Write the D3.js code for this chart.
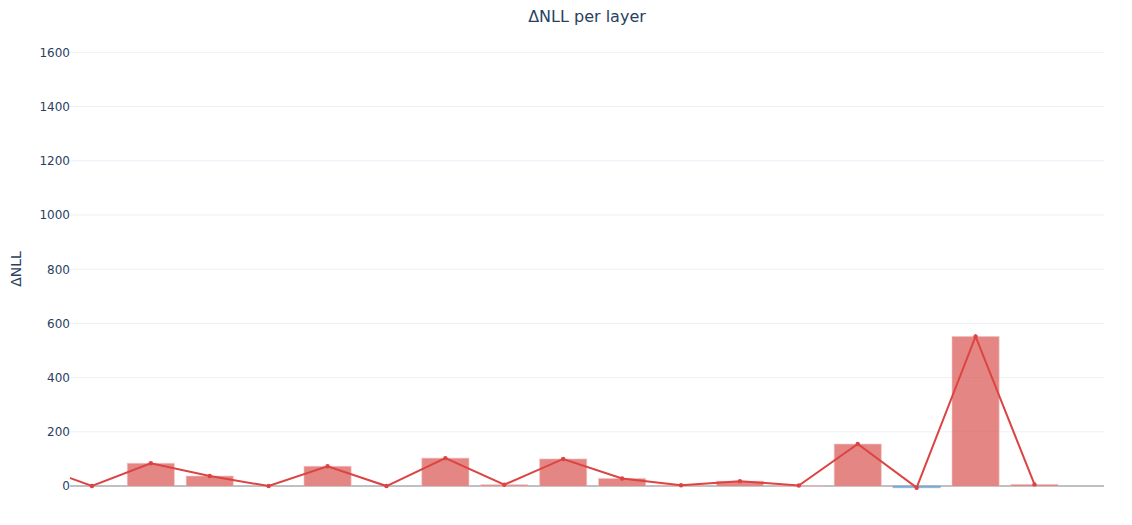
<!DOCTYPE html>
<html>
<head>
<meta charset="utf-8">
<script src="https://cdn.jsdelivr.net/npm/d3@7"></script>
<style>
  body { margin: 0; background: #fff; }
  text { font-family: "DejaVu Sans", Verdana, sans-serif; }
</style>
</head>
<body>
<div class="chart"></div>
<script>
// layer index and dNLL per layer
const layers = [0, 1, 2, 3, 4, 5, 6, 7, 8, 9, 10, 11, 12, 13, 14, 15, 16, 17];
const deltaNLL = [80, 0, 84, 37, 0, 73, 0, 103, 5, 100, 28, 3, 18, 2, 155, -6, 552, 6];
const yTicks = [0, 200, 400, 600, 800, 1000, 1200, 1400, 1600];

const W = 1132, H = 525;
const margin = { top: 51, right: 28, bottom: 38, left: 70 };
const width = W - margin.left - margin.right;
const height = H - margin.top - margin.bottom;

const svg = d3.select('.chart')
  .append('svg')
    .attr('width', W)
    .attr('height', H);

const g = svg.append('g')
  .attr('transform', `translate(${margin.left}, ${margin.top})`);

// x is hidden, range cuts off part of layer 0
const xScale = d3.scaleLinear()
  .domain([0.628, 18.18])
  .range([0, width]);

const yScale = d3.scaleLinear()
  .domain([-3.5, 1605])
  .range([height, 0]);

// grid
g.append('g')
  .selectAll('line')
  .data(yTicks.filter(d => d !== 0))
  .enter()
  .append('line')
    .attr('x1', 0)
    .attr('x2', width)
    .attr('y1', d => yScale(d))
    .attr('y2', d => yScale(d))
    .style('stroke', '#ebf0f8')
    .style('stroke-width', 1);

// y tick labels
g.append('g')
  .selectAll('text')
  .data(yTicks)
  .enter()
  .append('text')
    .attr('x', 0)
    .attr('y', d => yScale(d))
    .attr('dy', '0.36em')
    .attr('text-anchor', 'end')
    .style('font-size', '12px')
    .style('fill', '#2a3f5f')
    .text(d => d);

svg.append('clipPath').attr('id', 'plotclip')
  .append('rect')
    .attr('x', margin.left)
    .attr('y', 0)
    .attr('width', width)
    .attr('height', H);

const plot = svg.append('g')
  .attr('clip-path', 'url(#plotclip)')
  .append('g')
    .attr('transform', `translate(${margin.left}, ${margin.top})`);

// zero line (under the traces)
plot.append('line')
  .attr('x1', 0)
  .attr('x2', width)
  .attr('y1', yScale(0))
  .attr('y2', yScale(0))
  .style('stroke', '#bfc0c4')
  .style('stroke-width', 2);

// bars
const bw = (xScale(1) - xScale(0)) * 0.8;
plot.selectAll('.bar')
  .data(layers)
  .enter()
  .append('rect')
    .attr('class', 'bar')
    .attr('x', i => xScale(i) - bw / 2)
    .attr('width', bw)
    .attr('y', i => yScale(Math.max(0, deltaNLL[i])))
    .attr('height', i => Math.abs(yScale(deltaNLL[i]) - yScale(0)))
    .style('fill', i => deltaNLL[i] < 0 ? '#6fa3cc' : '#d9534f')
    .style('fill-opacity', i => deltaNLL[i] < 0 ? 0.75 : 0.7)
    .style('stroke', i => deltaNLL[i] < 0 ? '#6fa3cc' : '#f2c4c4')
    .style('stroke-opacity', 0.6)
    .style('stroke-width', 1);

// line + markers
const drawLine = d3.line()
  .x(i => xScale(i))
  .y(i => yScale(deltaNLL[i]));

plot.append('path')
  .attr('d', drawLine(layers))
  .style('fill', 'none')
  .style('stroke', '#dc4444')
  .style('stroke-width', 2);

plot.selectAll('.dot')
  .data(layers)
  .enter()
  .append('circle')
    .attr('cx', i => xScale(i))
    .attr('cy', i => yScale(deltaNLL[i]))
    .attr('r', 2.2)
    .style('fill', '#dc4444');

// title
svg.append('text')
  .attr('x', margin.left + width / 2)
  .attr('y', 22)
  .attr('text-anchor', 'middle')
  .style('font-size', '16px')
  .style('fill', '#2a3f5f')
  .text('ΔNLL per layer');

// y label
svg.append('text')
  .attr('transform', `translate(21, ${269}) rotate(-90)`)
  .attr('text-anchor', 'middle')
  .style('font-size', '14px')
  .style('fill', '#2a3f5f')
  .text('ΔNLL');
</script>
</body>
</html>
